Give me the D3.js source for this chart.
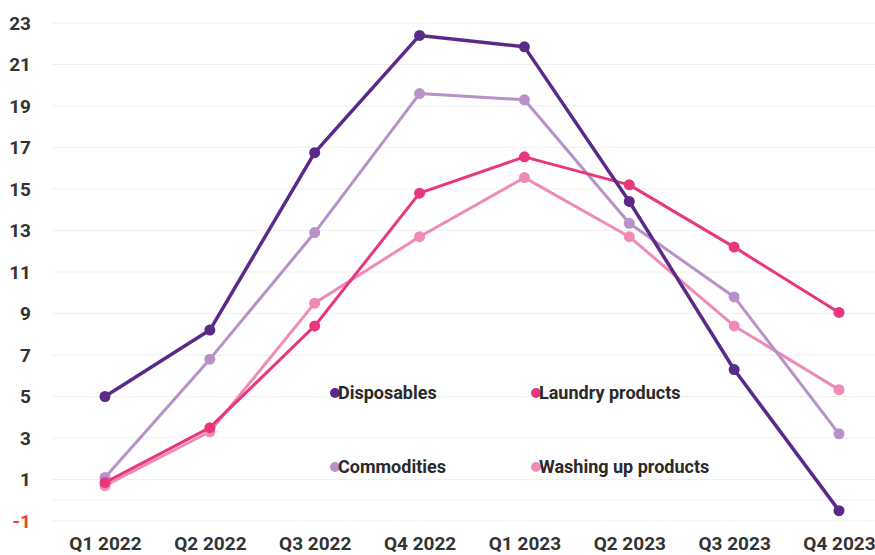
<!DOCTYPE html>
<html>
<head>
<meta charset="utf-8">
<script src="https://cdn.jsdelivr.net/npm/d3@7"></script>
<style>
  html, body { margin: 0; padding: 0; background: #fff; }
  svg { display: block; font-family: Roboto, "Noto Sans", sans-serif; }
</style>
</head>
<body>
<svg id="chart" width="875" height="555"></svg>
<script>
const categories = ["Q1 2022", "Q2 2022", "Q3 2022", "Q4 2022", "Q1 2023", "Q2 2023", "Q3 2023", "Q4 2023"];
const disposables = [5.0, 8.2, 16.75, 22.4, 21.85, 14.4, 6.3, -0.5];
const commodities = [1.1, 6.8, 12.9, 19.6, 19.3, 13.35, 9.8, 3.2];
const laundry = [0.85, 3.5, 8.4, 14.8, 16.55, 15.2, 12.2, 9.05];
const washingUp = [0.7, 3.3, 9.5, 12.7, 15.55, 12.7, 8.4, 5.33];
const yTicks = [-1, 1, 3, 5, 7, 9, 11, 13, 15, 17, 19, 21, 23];
const seriesNames = ["Disposables", "Laundry products", "Commodities", "Washing up products"];

const colors = {
  "Disposables": "#5b2a88",
  "Commodities": "#b891c9",
  "Laundry products": "#e8367f",
  "Washing up products": "#f08bb9"
};
const seriesData = {
  "Disposables": disposables,
  "Commodities": commodities,
  "Laundry products": laundry,
  "Washing up products": washingUp
};
const drawOrder = ["Washing up products", "Commodities", "Laundry products", "Disposables"];

const svg = d3.select("#chart");
const x = d3.scalePoint().domain(categories).range([105, 839]);
const y = d3.scaleLinear().domain([-1, 23]).range([521, 23]);

// gridlines
const gridVals = yTicks.concat([0]);
svg.append("g").selectAll("line").data(gridVals).join("line")
  .attr("x1", 52).attr("x2", 875)
  .attr("y1", d => y(d)).attr("y2", d => y(d))
  .attr("stroke", "#efefef").attr("stroke-width", 1);

// y axis
const yAxis = svg.append("g").attr("transform", "translate(31,0)")
  .call(d3.axisLeft(y).tickValues(yTicks).tickSize(0).tickPadding(0).tickFormat(d => String(d)));
yAxis.select(".domain").remove();
yAxis.selectAll("text")
  .attr("font-family", "Roboto, sans-serif")
  .attr("font-size", 19).attr("font-weight", 700)
  .attr("fill", d => d < 0 ? "#e8432b" : "#333");

// x axis
const xAxis = svg.append("g").attr("transform", "translate(0,536)")
  .call(d3.axisBottom(x).tickSize(0).tickPadding(0));
xAxis.select(".domain").remove();
xAxis.selectAll("text")
  .attr("dy", "0.71em")
  .attr("font-family", "Roboto, sans-serif")
  .attr("font-size", 19).attr("font-weight", 700)
  .attr("fill", "#333");

// lines
const line = d3.line().x((d, i) => x(categories[i])).y(d => y(d));
drawOrder.forEach(name => {
  const g = svg.append("g");
  g.append("path").datum(seriesData[name])
    .attr("d", line).attr("fill", "none")
    .attr("stroke", colors[name])
    .attr("stroke-width", name === "Disposables" ? 3.5 : 3)
    .attr("stroke-linejoin", "round");
  g.selectAll("circle").data(seriesData[name]).join("circle")
    .attr("cx", (d, i) => x(categories[i])).attr("cy", d => y(d))
    .attr("r", 5.5).attr("fill", colors[name]);
});

// legend
const legendPos = [
  { name: "Disposables", x: 335, y: 393 },
  { name: "Laundry products", x: 536, y: 393 },
  { name: "Commodities", x: 335, y: 467 },
  { name: "Washing up products", x: 536, y: 467 }
];
const lg = svg.append("g");
legendPos.forEach(p => {
  lg.append("circle").attr("cx", p.x).attr("cy", p.y).attr("r", 5).attr("fill", colors[p.name]);
  lg.append("text").attr("x", p.x + 3).attr("y", p.y).attr("dy", "0.35em")
    .attr("font-family", "Roboto, sans-serif").attr("font-size", 18).attr("font-weight", 700)
    .attr("fill", "#2a2a2a").text(p.name);
});
</script>
</body>
</html>
